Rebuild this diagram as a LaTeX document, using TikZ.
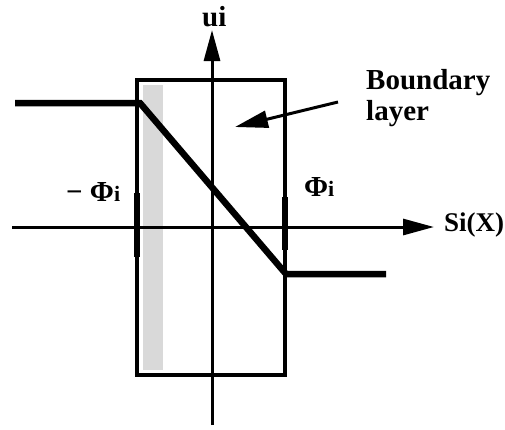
\documentclass[tikz,border=0pt]{standalone}
\usepackage{fontspec}
\setmainfont{Liberation Serif}
\usetikzlibrary{arrows.meta}
\begin{document}
\begin{tikzpicture}[x=1pt,y=-1pt,
  lbl/.style={font=\bfseries\fontsize{29}{31}\selectfont, inner sep=0pt},
  axis/.style={line width=3pt, -{Triangle[length=31pt,width=16pt]}},
  thick line/.style={line width=6.5pt},
  boxline/.style={line width=3.5pt},
  tickmark/.style={line width=6pt}]
\useasboundingbox (0,0) rectangle (505,429);
% shaded boundary strip
\fill[black!15] (143,85) rectangle (163,370);
% box
\draw[boxline] (137,80) rectangle (285,375);
% thick marks at +-Phi
\draw[tickmark] (137,193) -- (137,257);
\draw[tickmark] (285,197) -- (285,250);
% axes
\coordinate (xl) at (12,227);
\coordinate (xr) at (434,227);
\coordinate (yb) at (212,425);
\coordinate (yt) at (212,30);
\draw[axis] (xl) -- (xr);
\draw[axis] (yb) -- (yt);
% saturation function
\coordinate (a) at (15,103);
\coordinate (b) at (140,103);
\coordinate (c) at (286,274);
\coordinate (d) at (386,274);
\draw[thick line, line join=miter] (a) -- (b) -- (c) -- (d);
% labels
\node[lbl, anchor=west] (ui) at (202,17) {ui};
\node[lbl, anchor=west, font=\bfseries\fontsize{27}{30}\selectfont] (si) at (444,225) {Si(X)};
\node[lbl, anchor=west] (mphi) at (66,192) {\textminus\ Φ{\fontsize{22}{24}\selectfont i}};
\node[lbl, anchor=west] (phi) at (304,187) {Φ{\fontsize{22}{24}\selectfont i}};
\node[lbl, anchor=west, align=left] (bl) at (366,98) {Boundary\\layer};
\coordinate (blstart) at (338,102);
\coordinate (bltip) at (235,127);
\draw[line width=3pt, -{Triangle[length=33pt,width=17pt]}] (blstart) -- (bltip);
\end{tikzpicture}
\end{document}
